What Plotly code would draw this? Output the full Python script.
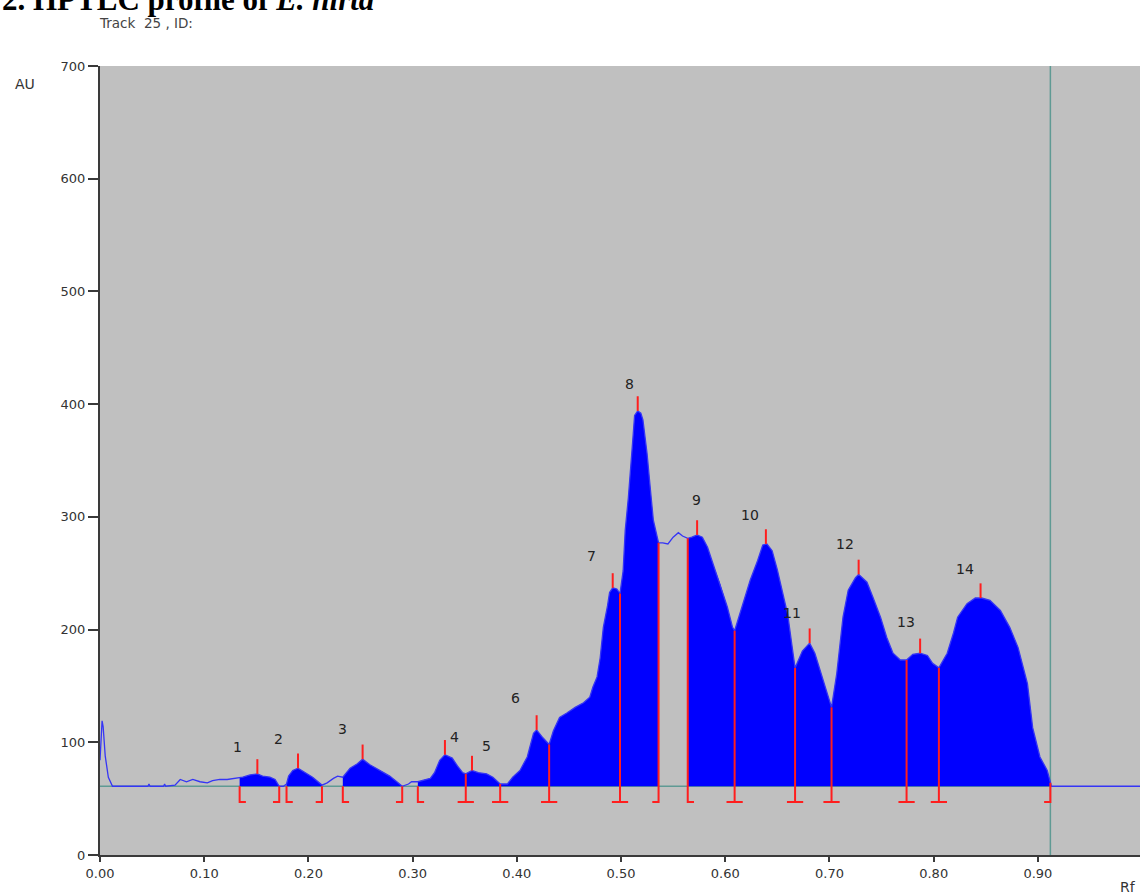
import plotly.graph_objects as go

# ---- densitogram scan: Rf vs absorbance (AU) ----
rf = [0.000, 0.001, 0.002, 0.003, 0.005, 0.008, 0.012, 0.046, 0.047, 0.048,
      0.061, 0.062, 0.063, 0.072, 0.077, 0.083, 0.089, 0.096, 0.103, 0.108,
      0.115, 0.122, 0.128, 0.134, 0.137, 0.144, 0.151, 0.156, 0.163, 0.168,
      0.172, 0.176, 0.179, 0.181, 0.185, 0.190, 0.197, 0.204, 0.213, 0.218,
      0.224, 0.228, 0.233, 0.240, 0.247, 0.252, 0.259, 0.269, 0.278, 0.286,
      0.290, 0.296, 0.299, 0.305, 0.312, 0.317, 0.321, 0.326, 0.331, 0.338,
      0.343, 0.348, 0.351, 0.357, 0.363, 0.371, 0.377, 0.384, 0.391, 0.396,
      0.403, 0.410, 0.416, 0.419, 0.425, 0.431, 0.435, 0.441, 0.448, 0.456,
      0.464, 0.470, 0.473, 0.477, 0.480, 0.483, 0.487, 0.489, 0.492, 0.496,
      0.499, 0.502, 0.504, 0.507, 0.511, 0.513, 0.516, 0.519, 0.521, 0.525,
      0.528, 0.531, 0.536, 0.540, 0.545, 0.550, 0.555, 0.559, 0.564, 0.568,
      0.573, 0.578, 0.583, 0.588, 0.595, 0.602, 0.607, 0.609, 0.611, 0.617,
      0.624, 0.631, 0.636, 0.640, 0.645, 0.650, 0.655, 0.660, 0.664, 0.667,
      0.674, 0.681, 0.686, 0.693, 0.699, 0.702, 0.707, 0.713, 0.718, 0.725,
      0.728, 0.736, 0.742, 0.749, 0.755, 0.761, 0.768, 0.774, 0.780, 0.787,
      0.794, 0.799, 0.805, 0.813, 0.819, 0.823, 0.832, 0.840, 0.846, 0.854,
      0.864, 0.873, 0.881, 0.890, 0.895, 0.902, 0.909, 0.912, 0.913, 0.998]
au = [84, 110, 119, 114, 88, 69, 61, 61, 63, 61,
      61, 63, 61, 62, 67, 65, 67, 65, 64, 66,
      67, 67, 68, 69, 69, 71, 72, 70, 69, 67,
      61, 61, 63, 70, 75, 77, 73, 69, 62, 64,
      68, 70, 69, 77, 81, 85, 80, 75, 70, 64,
      61, 63, 65, 65, 67, 68, 73, 84, 89, 86,
      79, 73, 72, 75, 73, 72, 69, 63, 63, 69,
      75, 87, 108, 111, 104, 98, 110, 122, 126, 131,
      135, 140, 149, 158, 175, 202, 221, 233, 237, 236,
      232, 252, 288, 317, 365, 390, 394, 392, 386, 356,
      326, 297, 277, 277, 276, 282, 286, 283, 281, 282,
      284, 282, 273, 259, 241, 220, 202, 199, 205, 223,
      244, 261, 275, 276, 270, 253, 234, 213, 186, 166,
      181, 188, 179, 158, 140, 131, 161, 211, 235, 246,
      249, 242, 228, 211, 193, 179, 173, 173, 178, 179,
      177, 170, 166, 179, 197, 211, 223, 228, 228, 226,
      217, 202, 184, 152, 113, 87, 75, 64, 61, 61]

baseline_au = 61
scan_end_rf = 0.912

# integrated regions (start, end) that are shaded
region_start = [0.134, 0.179, 0.233, 0.305, 0.564]
region_end = [0.172, 0.213, 0.290, 0.536, 0.912]

# peak maxima
peak_no = list(range(1, 15))
peak_rf = [0.151, 0.190, 0.252, 0.331, 0.357, 0.419, 0.492,
           0.516, 0.573, 0.639, 0.681, 0.728, 0.787, 0.845]
peak_au = [72, 77, 85, 89, 75, 111, 237, 394, 284, 276, 188, 249, 179, 228]

# peak start/end markers: position, signal height, kind
bound_rf = [0.134, 0.172, 0.179, 0.213, 0.233, 0.290, 0.305, 0.351, 0.384,
            0.431, 0.499, 0.536, 0.564, 0.609, 0.667, 0.702, 0.774, 0.805, 0.912]
bound_au = [61, 61, 61, 61, 61, 61, 61, 72, 63,
            98, 232, 277, 281, 199, 166, 131, 173, 166, 64]
bound_kind = ["start", "end", "start", "end", "start", "end", "start", "split", "split",
              "split", "split", "end", "start", "split", "split", "split", "split", "split", "end"]

x_ticks = [0.0, 0.1, 0.2, 0.3, 0.4, 0.5, 0.6, 0.7, 0.8, 0.9]
x_tick_text = ["0.00", "0.10", "0.20", "0.30", "0.40", "0.50", "0.60", "0.70", "0.80", "0.90"]
y_ticks = [0, 100, 200, 300, 400, 500, 600, 700]

# ---- styling ----
FILL_BLUE = "#0000FF"
LINE_BLUE = "#3535F5"
RED = "#FF1E1E"
TEAL = "#5F9A94"
AXIS = "#3A3A3A"
TEXT = "#333333"
SANS = "DejaVu Sans"
MARK_FOOT = 47        # AU level of marker feet
TICK_LEN = 13         # AU length of peak-top tick
BAR_HALF = 0.0078     # half width of split-marker foot (Rf)
BRACKET = 0.006       # bracket foot length (Rf)

# label placement relative to peak top (Rf, AU)
label_dx = [-0.019, -0.019, -0.019, 0.009, 0.014, -0.020, -0.020,
            -0.008, -0.001, -0.015, -0.017, -0.013, -0.014, -0.015]
label_dy = [24, 26, 27, 16, 22, 28, 28, 24, 31, 26, 27, 27, 28, 26]

fig = go.Figure()

# shaded peak areas down to the baseline
for s, e in zip(region_start, region_end):
    seg = [(x, y) for x, y in zip(rf, au) if s <= x <= e]
    xs = [s] + [p[0] for p in seg] + [e]
    ys = [baseline_au] + [p[1] for p in seg] + [baseline_au]
    fig.add_trace(go.Scatter(x=xs, y=ys, mode="lines", fill="toself",
                             fillcolor=FILL_BLUE, line=dict(width=0, color=FILL_BLUE),
                             hoverinfo="skip"))

# raw scan trace
fig.add_trace(go.Scatter(x=rf, y=au, mode="lines",
                         line=dict(color=LINE_BLUE, width=1.3), hoverinfo="skip"))

# start/end markers
bx, by = [], []
for x, h, k in zip(bound_rf, bound_au, bound_kind):
    if k == "start":
        bx += [x, x, x + BRACKET, None]
        by += [h, MARK_FOOT, MARK_FOOT, None]
    elif k == "end":
        bx += [x, x, x - BRACKET, None]
        by += [h, MARK_FOOT, MARK_FOOT, None]
    else:
        bx += [x, x, None, x - BAR_HALF, x + BAR_HALF, None]
        by += [h, MARK_FOOT, None, MARK_FOOT, MARK_FOOT, None]
fig.add_trace(go.Scatter(x=bx, y=by, mode="lines",
                         line=dict(color=RED, width=2), hoverinfo="skip"))

# peak-top ticks
tx, ty = [], []
for x, h in zip(peak_rf, peak_au):
    tx += [x, x, None]
    ty += [h, h + TICK_LEN, None]
fig.add_trace(go.Scatter(x=tx, y=ty, mode="lines",
                         line=dict(color=RED, width=2), hoverinfo="skip"))

# baseline and end-of-scan line
fig.add_shape(type="line", xref="x", yref="y", x0=0, x1=scan_end_rf,
              y0=baseline_au, y1=baseline_au, line=dict(color=TEAL, width=1.5),
              layer="below")
fig.add_shape(type="line", xref="x", yref="paper", x0=scan_end_rf, x1=scan_end_rf,
              y0=0, y1=1, line=dict(color=TEAL, width=1.5), layer="below")

# peak numbers
for n, x, h, dx, dy in zip(peak_no, peak_rf, peak_au, label_dx, label_dy):
    fig.add_annotation(x=x + dx, y=h + dy, xref="x", yref="y", text=str(n),
                       showarrow=False,
                       font=dict(family=SANS, size=14, color="#222222"))

fig.add_annotation(xref="paper", yref="paper", x=-0.0962, y=1.0596,
                   xanchor="left", yanchor="bottom", showarrow=False,
                   text="<b>2. HPTLC profile of <i>E. hirta</i></b>",
                   font=dict(family="Liberation Serif", size=31, color="#000000"))
fig.add_annotation(xref="paper", yref="paper", x=-0.003, y=1.054,
                   xanchor="left", yanchor="middle", showarrow=False,
                   text="Track  25 , ID:",
                   font=dict(family=SANS, size=13.5, color="#444444"))
fig.add_annotation(xref="paper", yref="paper", x=-0.0721, y=0.977,
                   xanchor="center", yanchor="middle", showarrow=False,
                   text="AU", font=dict(family=SANS, size=14, color=TEXT))
fig.add_annotation(xref="paper", yref="paper", x=0.9885, y=-0.0406,
                   xanchor="center", yanchor="middle", showarrow=False,
                   text="Rf", font=dict(family=SANS, size=14, color=TEXT))

fig.update_layout(
    width=1146, height=896,
    margin=dict(l=100, r=6, t=66, b=41),
    plot_bgcolor="#C0C0C0", paper_bgcolor="#FFFFFF",
    showlegend=False,
    xaxis=dict(range=[0, 0.998], tickvals=x_ticks, ticktext=x_tick_text,
               ticks="outside", ticklen=5, tickwidth=1.5, tickcolor=AXIS,
               showline=True, linecolor=AXIS, linewidth=2,
               showgrid=False, zeroline=False,
               tickfont=dict(family=SANS, size=13, color=TEXT)),
    yaxis=dict(range=[0, 700], tickvals=y_ticks,
               ticks="outside", ticklen=10, tickwidth=1.5, tickcolor=AXIS,
               showline=True, linecolor=AXIS, linewidth=2,
               showgrid=False, zeroline=False,
               tickfont=dict(family=SANS, size=13, color=TEXT)),
)

fig.write_html("out.html")
